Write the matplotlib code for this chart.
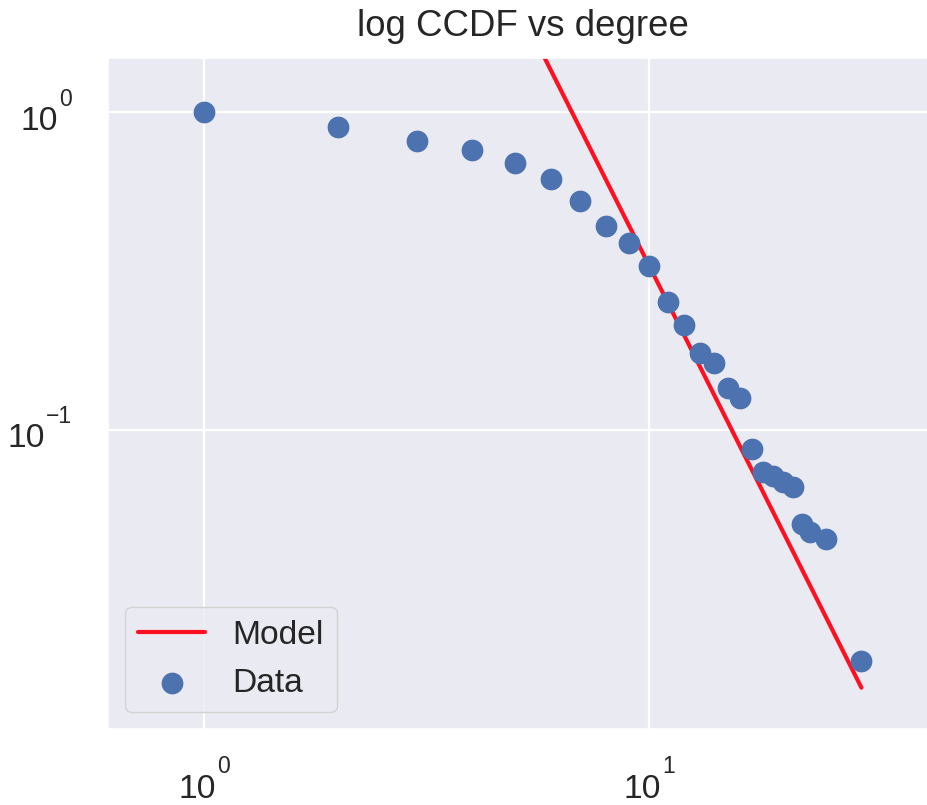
import numpy as np
import matplotlib
matplotlib.use("Agg")
import matplotlib.pyplot as plt
import seaborn as sns

# degree values and their complementary cumulative distribution
degree = [1, 2, 3, 4, 5, 6, 7, 8, 9, 10, 11, 12, 13, 14, 15, 16,
          17, 18, 19, 20, 21, 22, 23, 25, 30]
ccdf = [1.0, 0.899, 0.814, 0.761, 0.691, 0.618, 0.526, 0.438, 0.389,
        0.328, 0.253, 0.214, 0.175, 0.162, 0.1356, 0.1258, 0.0871,
        0.0739, 0.0716, 0.0688, 0.0663, 0.0507, 0.0476, 0.0454, 0.0188]

# fitted power law: ccdf ~ C * k^-alpha
alpha = 2.783
C = 199.4

sns.set_theme(style="darkgrid", font_scale=2.2)
plt.rcParams['font.family'] = ['Liberation Sans', 'DejaVu Sans']

fig = plt.figure(figsize=(9.27, 8.05), dpi=100)
ax = fig.add_axes([0.1165, 0.0944, 0.8954, 0.8336])

k = np.array(degree, dtype=float)
k_model = np.linspace(k.min(), k.max(), 200)
ax.plot(k_model, C * k_model ** (-alpha), color='#FF1020', lw=3,
        solid_capstyle='round', label='Model')
ax.scatter(k, ccdf, s=215, color='#4C72B0', label='Data', zorder=3)

ax.set_xscale('log')
ax.set_yscale('log')
ax.set_xlim(0.607, 44.6)
ax.set_ylim(0.01145, 1.482)
ax.grid(True, which='major', color='white', lw=1.6)
ax.tick_params(labelbottom=False, labelleft=False)
ax.set_title('log CCDF vs degree', color='.15', pad=16)
ax.legend(loc='lower left')

# power-of-ten tick labels with a raised exponent
renderer = fig.canvas.get_renderer()
base_size, sup_size = 24.2, 16.5


def exp_text(v):
    e = int(round(np.log10(v)))
    return str(e).replace('-', '\u2212')


def place_label(xy, coords, base_off, sup_off, mode):
    base = ax.annotate('10', xy=xy, xycoords=coords, xytext=(0, base_off),
                       textcoords='offset pixels', ha='left', va='baseline',
                       fontsize=base_size, color='.15', annotation_clip=False)
    sup = ax.annotate(exp_text(xy[0] if mode == 'x' else xy[1]), xy=xy,
                      xycoords=coords, xytext=(0, sup_off),
                      textcoords='offset pixels', ha='left', va='baseline',
                      fontsize=sup_size, color='.15', annotation_clip=False)
    wb = base.get_window_extent(renderer).width + 1.5
    ws = sup.get_window_extent(renderer).width
    if mode == 'x':
        x0 = -(wb + ws) / 2
    else:
        x0 = -35.7 - (wb + ws)
    base.xyann = (x0, base_off)
    sup.xyann = (x0 + wb, sup_off)


x_lo, x_hi = ax.get_xlim()
for v in ax.get_xticks():
    if x_lo <= v <= x_hi:
        place_label((v, 0), ('data', 'axes fraction'), -68.7, -44.3, 'x')

y_lo, y_hi = ax.get_ylim()
for v in ax.get_yticks():
    if y_lo <= v <= y_hi:
        place_label((0, v), ('axes fraction', 'data'), -17.5, 6.5, 'y')

fig.savefig('out.png', dpi=100)
